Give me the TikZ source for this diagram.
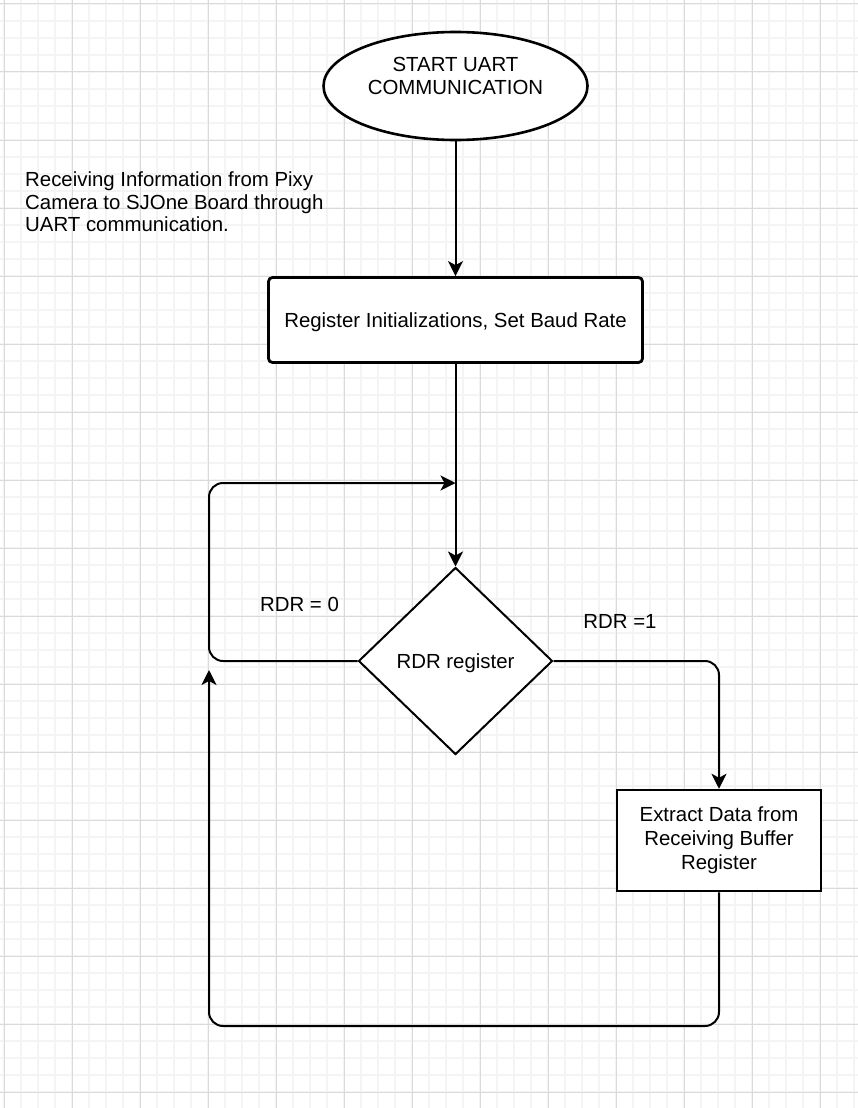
\documentclass[tikz,border=0pt]{standalone}
\usepackage{fontspec}
\setmainfont{Liberation Sans}
\usetikzlibrary{arrows.meta,shapes.geometric}
\definecolor{gridminor}{RGB}{244,244,244}
\definecolor{gridmajor}{RGB}{218,218,218}
\begin{document}
\begin{tikzpicture}[x=1pt,y=-1pt,
  txt/.style={font=\fontsize{20.4}{23.4}\selectfont},
  minorline/.style={draw=gridminor,line width=1.5pt},
  majorline/.style={draw=gridmajor,line width=1pt},
  conn/.style={draw=black,line width=2pt,rounded corners=14pt},
  arr/.style={-{Stealth[length=15pt,width=15pt,inset=4pt]}},
  startell/.style={ellipse,draw=black,fill=white,line width=2.6pt,minimum width=264pt,minimum height=108pt,inner sep=0pt},
  initbox/.style={rectangle,draw=black,fill=white,line width=2.8pt,rounded corners=4pt,minimum width=374pt,minimum height=85pt,text depth=0pt,txt},
  decision/.style={diamond,draw=black,fill=white,line width=2pt,aspect=1.04,minimum width=194pt,minimum height=187pt,inner sep=0pt,text depth=0pt,txt},
  procbox/.style={rectangle,draw=black,fill=white,line width=2.5pt,minimum width=204pt,minimum height=101pt,align=center,font=\fontsize{20.4}{24}\selectfont},
  plain/.style={txt,inner sep=0pt}]
\useasboundingbox (0,0) rectangle (858,1108);
\fill[white] (0,0) rectangle (858,1108);
% grid
\foreach \i in {0,...,50} \draw[minorline] ({4+17*\i},0) -- ({4+17*\i},1108);
\foreach \i in {0,...,64} \draw[minorline] (0,{4+17*\i}) -- (858,{4+17*\i});
\foreach \i in {0,...,12} \draw[majorline] ({4+68*\i},0) -- ({4+68*\i},1108);
\foreach \i in {0,...,16} \draw[majorline] (0,{4+68*\i}) -- (858,{4+68*\i});
% nodes
\node[startell,label={[name=startlbl,txt,align=center,yshift=10pt]center:{START UART\\COMMUNICATION}}] (start) at (455.5,86) {};
\node[plain,anchor=north west,align=left,font=\fontsize{20.4}{22.5}\selectfont] (info) at (25,172)
  {Receiving Information from Pixy\\Camera to SJOne Board through\\UART communication.};
\node[initbox] (init) at (455.5,320) {Register Initializations, Set Baud Rate};
\node[decision] (rdr) at (455.5,661) {RDR register};
\node[procbox] (extract) at (719,840.5) {Extract Data from\\Receiving Buffer\\Register};
\node[plain] (r0) at (299.5,604) {RDR = 0};
\node[plain] (r1) at (620,621) {RDR =1};
\coordinate (loopTL) at (209,483);
\coordinate (loopin) at (455.5,483);
\coordinate (loopBL) at (209,1026);
\coordinate (loopup) at (209,670);
% connectors
\draw[conn,arr] (start.south) -- (init.north);
\draw[conn,arr] (init.south) -- (rdr.north);
\draw[conn,arr] (rdr.west) -| (loopTL) -- (loopin);
\draw[conn,arr] (rdr.east) -| (extract.north);
\draw[conn,arr] (extract.south) |- (loopBL) -- (loopup);
\end{tikzpicture}
\end{document}
